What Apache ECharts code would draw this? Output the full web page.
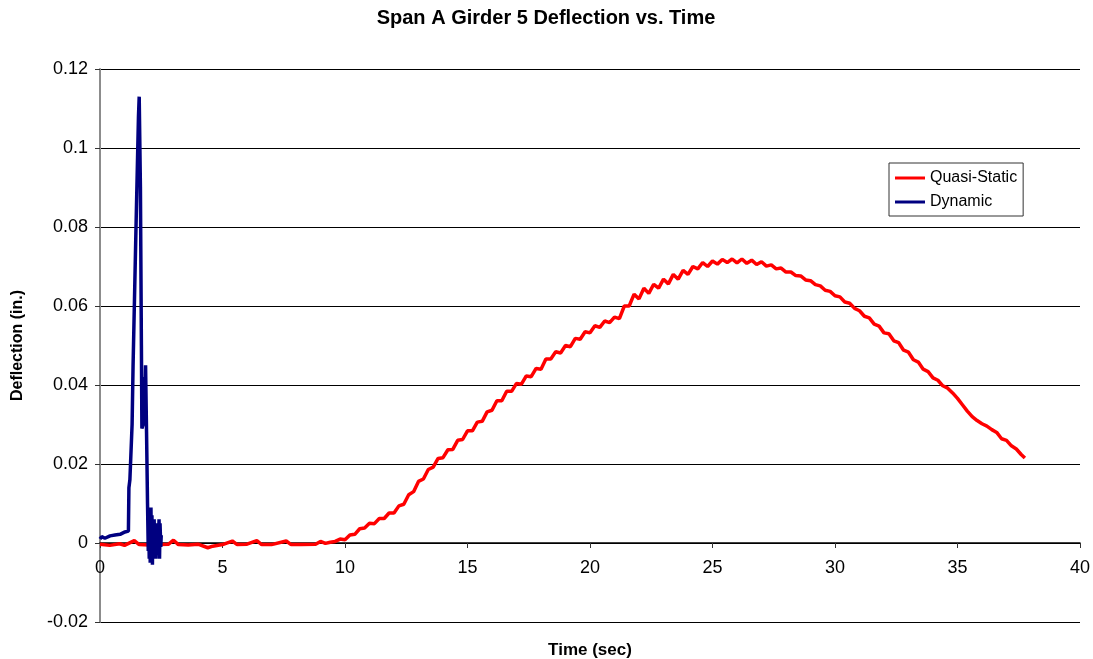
<!DOCTYPE html>
<html>
<head>
<meta charset="utf-8">
<script src="https://cdn.jsdelivr.net/npm/echarts@6/dist/echarts.min.js"></script>
<style>
  html, body { margin: 0; padding: 0; background: #fff; }
  #chart { width: 1093px; height: 659px; }
</style>
</head>
<body>
<div id="chart"></div>
<script>
// time (sec), deflection (in.)
const quasiStatic = [
  [0, -0.0003], [0.4, -0.0006], [0.8, -0.0002], [1.0, -0.0006], [1.4, 0.0006], [1.6, -0.0004],
  [2.0, -0.0005], [2.2, 0.0008], [2.4, -0.0004], [2.8, -0.0003], [3.0, 0.0007], [3.2, -0.0004],
  [3.6, -0.0005], [4.0, -0.0003], [4.4, -0.0012], [4.6, -0.0008], [5.0, -0.0004], [5.4, 0.0005],
  [5.6, -0.0004], [6.0, -0.0003], [6.4, 0.0006], [6.6, -0.0004], [7.0, -0.0004], [7.6, 0.0005],
  [7.8, -0.0004], [8.2, -0.0004], [8.8, -0.0003], [9.0, 0.0004], [9.2, -0.0001], [9.4, 0.0002],
  [9.6, 0.0004], [9.8, 0.0010], [10.0, 0.0008], [10.2, 0.0020], [10.4, 0.0022], [10.6, 0.0036],
  [10.8, 0.0038], [11.0, 0.0050], [11.2, 0.0049], [11.4, 0.0062], [11.6, 0.0062], [11.8, 0.0076],
  [12.0, 0.0076], [12.2, 0.0094], [12.4, 0.0098], [12.6, 0.0122], [12.8, 0.0130], [13.0, 0.0156],
  [13.2, 0.0162], [13.4, 0.0186], [13.6, 0.0192], [13.8, 0.0214], [14.0, 0.0216], [14.2, 0.0236],
  [14.4, 0.0237], [14.6, 0.0260], [14.8, 0.0262], [15.0, 0.0284], [15.2, 0.0284], [15.4, 0.0306],
  [15.6, 0.0308], [15.8, 0.0332], [16.0, 0.0336], [16.2, 0.0360], [16.4, 0.0360], [16.6, 0.0384],
  [16.8, 0.0384], [17.0, 0.0404], [17.2, 0.0402], [17.4, 0.0423], [17.6, 0.0421], [17.8, 0.0442],
  [18.0, 0.0440], [18.2, 0.0466], [18.4, 0.0466], [18.6, 0.0484], [18.8, 0.0481], [19.0, 0.0500],
  [19.2, 0.0497], [19.4, 0.0518], [19.6, 0.0516], [19.8, 0.0535], [20.0, 0.0532], [20.2, 0.0550],
  [20.4, 0.0546], [20.6, 0.0562], [20.8, 0.0558], [21.0, 0.0572], [21.2, 0.0568], [21.4, 0.0600],
  [21.6, 0.0600], [21.8, 0.0630], [22.0, 0.0618], [22.2, 0.0645], [22.4, 0.0632], [22.6, 0.0655],
  [22.8, 0.0645], [23.0, 0.0668], [23.2, 0.0656], [23.4, 0.0680], [23.6, 0.0668], [23.8, 0.0690],
  [24.0, 0.0680], [24.2, 0.0700], [24.4, 0.0694], [24.6, 0.0710], [24.8, 0.0700], [25.0, 0.0714],
  [25.2, 0.0706], [25.4, 0.0718], [25.6, 0.0710], [25.8, 0.0719], [26.0, 0.0709], [26.2, 0.0719],
  [26.4, 0.0708], [26.6, 0.0716], [26.8, 0.0705], [27.0, 0.0712], [27.2, 0.0701], [27.4, 0.0704],
  [27.6, 0.0694], [27.8, 0.0696], [28.0, 0.0686], [28.2, 0.0686], [28.4, 0.0677], [28.6, 0.0676],
  [28.8, 0.0666], [29.0, 0.0664], [29.2, 0.0654], [29.4, 0.0651], [29.6, 0.0640], [29.8, 0.0637],
  [30.0, 0.0626], [30.2, 0.0623], [30.4, 0.0610], [30.6, 0.0607], [30.8, 0.0594], [31.0, 0.0588],
  [31.2, 0.0574], [31.4, 0.0570], [31.6, 0.0554], [31.8, 0.0549], [32.0, 0.0532], [32.2, 0.0530],
  [32.4, 0.0512], [32.6, 0.0507], [32.8, 0.0488], [33.0, 0.0483], [33.2, 0.0464], [33.4, 0.0458],
  [33.6, 0.0440], [33.8, 0.0434], [34.0, 0.0418], [34.2, 0.0412], [34.4, 0.0398], [34.6, 0.0392],
  [34.8, 0.0380], [35.0, 0.0366], [35.2, 0.0350], [35.4, 0.0334], [35.6, 0.0320], [35.8, 0.0310],
  [36.0, 0.0302], [36.2, 0.0296], [36.4, 0.0287], [36.6, 0.0280], [36.8, 0.0264], [37.0, 0.0260],
  [37.2, 0.0246], [37.4, 0.0238], [37.6, 0.0224], [37.75, 0.0215]
];

const dynamic = [
  [0, 0.0010], [0.07, 0.0016], [0.2, 0.0012], [0.41, 0.0018], [0.61, 0.0020], [0.82, 0.0022],
  [1.02, 0.0028], [1.16, 0.0030], [1.18, 0.0140], [1.22, 0.0160], [1.31, 0.0300], [1.35, 0.0450],
  [1.47, 0.0800], [1.57, 0.1080], [1.60, 0.1130], [1.65, 0.0900], [1.69, 0.0500], [1.71, 0.0290],
  [1.76, 0.0300], [1.80, 0.0420], [1.82, 0.0300], [1.86, 0.0450], [1.90, 0.0280], [1.94, 0.0100],
  [1.97, -0.0020], [1.99, 0.0040], [2.01, -0.0040], [2.03, 0.0060], [2.05, -0.0050], [2.08, 0.0090],
  [2.10, -0.0030], [2.12, 0.0070], [2.14, -0.0055], [2.16, 0.0050], [2.19, -0.0040], [2.21, 0.0060],
  [2.23, -0.0030], [2.26, 0.0050], [2.28, -0.0040], [2.31, 0.0050], [2.33, -0.0030], [2.36, 0.0040],
  [2.38, -0.0020], [2.41, 0.0060], [2.43, -0.0040], [2.45, 0.0050], [2.48, -0.0010], [2.50, 0.0020]
];

const font = "Liberation Sans, Arial, sans-serif";
const chart = echarts.init(document.getElementById("chart"));
chart.setOption({
  animation: false,
  backgroundColor: "#fff",
  title: {
    text: "Span A Girder 5 Deflection vs. Time",
    left: 541, top: 3, textAlign: "center",
    textStyle: { fontFamily: font, fontSize: 20, fontWeight: "bold", color: "#000" }
  },
  legend: {
    orient: "vertical", left: 889, top: 163,
    padding: [7, 6, 6, 6], itemGap: 8,
    itemWidth: 30, itemHeight: 3, icon: "rect",
    borderColor: "#333", borderWidth: 1, backgroundColor: "#fff",
    textStyle: { fontFamily: font, fontSize: 16, color: "#000" },
    data: ["Quasi-Static", "Dynamic"]
  },
  grid: { left: 100, right: 13, top: 69, bottom: 37, containLabel: false, outerBoundsMode: "none" },
  xAxis: {
    type: "value", min: 0, max: 40, interval: 5,
    name: "Time (sec)", nameLocation: "middle", nameGap: 99,
    nameTextStyle: { fontFamily: font, fontSize: 17, fontWeight: "bold", color: "#000" },
    offset: -79,
    axisLine: { onZero: false, lineStyle: { color: "#000", width: 1.5 } },
    axisTick: { show: true, length: 5, lineStyle: { color: "#333" } },
    axisLabel: { fontFamily: font, fontSize: 18, color: "#000", margin: 16 },
    splitLine: { show: false }
  },
  yAxis: {
    type: "value", min: -0.02, max: 0.12, interval: 0.02,
    name: "Deflection (in.)", nameLocation: "middle", nameGap: 74,
    nameTextStyle: { fontFamily: font, fontSize: 16, fontWeight: "bold", color: "#000" },
    axisLine: { show: true, lineStyle: { color: "#8c8c8c", width: 2 } },
    axisTick: { show: true, length: 5, lineStyle: { color: "#333" } },
    axisLabel: {
      fontFamily: font, fontSize: 18, color: "#000", margin: 12,
      formatter: v => String(parseFloat(v.toFixed(2)))
    },
    splitLine: { show: true, lineStyle: { color: "#000", width: 1 } }
  },
  series: [
    {
      name: "Quasi-Static", type: "line", data: quasiStatic,
      showSymbol: false, symbol: "none",
      lineStyle: { color: "#ff0000", width: 3.5 }, itemStyle: { color: "#ff0000" }
    },
    {
      name: "Dynamic", type: "line", data: dynamic,
      showSymbol: false, symbol: "none",
      lineStyle: { color: "#000080", width: 3.5 }, itemStyle: { color: "#000080" }
    }
  ]
});
</script>
</body>
</html>
